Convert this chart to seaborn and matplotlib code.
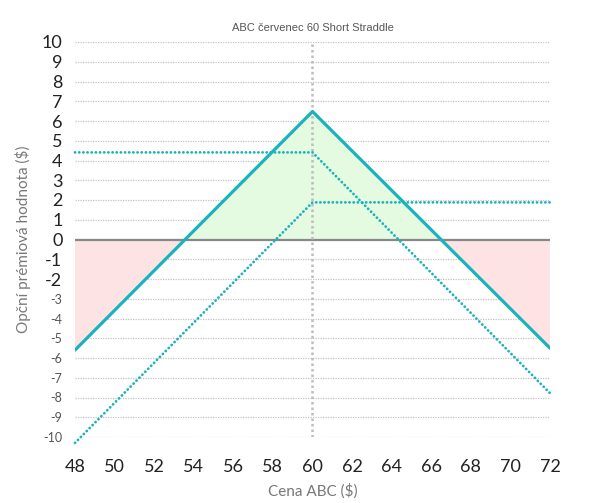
import numpy as np
import pandas as pd
import matplotlib
matplotlib.use("Agg")
import matplotlib.pyplot as plt
import seaborn as sns

# Data
price = [48, 60, 72]
straddle = [-5.6, 6.48, -5.5]      # combined short straddle P/L
short_call = [4.41, 4.41, -7.78]   # short call leg
short_put = [-10.3, 1.88, 1.88]    # short put leg

x_ticks = list(range(48, 73, 2))
y_ticks = list(range(-10, 11))

TEAL = "#1bb3bb"

sns.set_style("white")
plt.rcParams["font.family"] = ["Lato", "DejaVu Sans"]

df = pd.DataFrame({
    "price": price * 3,
    "value": straddle + short_call + short_put,
    "leg": ["straddle"] * 3 + ["call"] * 3 + ["put"] * 3,
})

fig = plt.figure(figsize=(5.95, 5.03), dpi=100)
ax = fig.add_axes([75 / 595, 1 - 437 / 503, 475 / 595, 395 / 503])

# profit / loss shading between the straddle line and zero
xs = np.array(price, dtype=float)
ys = np.array(straddle, dtype=float)
fine_x = np.linspace(xs[0], xs[-1], 600)
fine_y = np.interp(fine_x, xs, ys)
ax.fill_between(fine_x, fine_y, 0, where=fine_y >= 0, color="#e4fbe1", interpolate=True, zorder=1)
ax.fill_between(fine_x, fine_y, 0, where=fine_y <= 0, color="#fde3e4", interpolate=True, zorder=1)

# grid lines
for yv in y_ticks:
    if yv == 0:
        continue
    ax.axhline(yv, color="#c4c4c4", lw=0.9, ls=(0, (1, 1)), zorder=0)
ax.axhline(0, color="#888888", lw=1.6, zorder=2)
ax.axvline(60, color="#bdbdbd", lw=1.8, ls=(0, (1, 1.2)), zorder=2)

# legs and the combined position
for leg in ["call", "put"]:
    sns.lineplot(data=df[df["leg"] == leg], x="price", y="value", ax=ax,
                 color=TEAL, lw=2.0, ls=(0, (0.05, 1.45)), zorder=3,
                 estimator=None, sort=False)
for line in ax.get_lines()[-2:]:
    line.set_dash_capstyle("round")
    line.set_clip_on(False)
sns.lineplot(data=df[df["leg"] == "straddle"], x="price", y="value", ax=ax,
             color=TEAL, lw=2.3, zorder=4, estimator=None, sort=False)

ax.set_xlim(48, 72)
ax.set_ylim(-10, 10)
ax.set_xticks(x_ticks)
ax.set_yticks(y_ticks)
ax.set_xticklabels([str(v) for v in x_ticks])
ax.set_yticklabels([str(v) for v in y_ticks])
sns.despine(ax=ax, left=True, bottom=True, top=True, right=True)

ax.tick_params(axis="x", length=11, width=3, color="#d0d0d0", pad=5,
               labelsize=13, labelcolor="#222222")
ax.tick_params(axis="y", length=0, pad=9, labelsize=13, labelcolor="#222222")
for lab in ax.get_yticklabels():
    if int(lab.get_text()) <= -3:
        lab.set_fontsize(9)
        lab.set_color("#555555")

ax.set_xlabel("Cena ABC ($)", fontsize=11, color="#777777", labelpad=6)
ax.set_ylabel("Opční prémiová hodnota ($)", fontsize=11, color="#777777", labelpad=8)
ax.set_title("ABC červenec 60 Short Straddle", fontsize=8, color="#555555", pad=8,
             family=["Liberation Sans", "DejaVu Sans"])

fig.savefig("out.png", dpi=100)
